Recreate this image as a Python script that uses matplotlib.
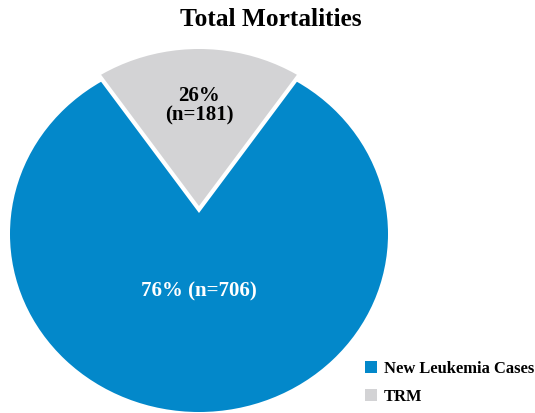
import matplotlib
matplotlib.use("Agg")
import matplotlib.pyplot as plt
from matplotlib.patches import Ellipse

# ---- data ----
categories = ["New Leukemia Cases", "TRM"]
counts = [706, 181]
pct_labels = ["76%", "26%"]
colors = ["#0388CA", "#D3D3D5"]
title = "Total Mortalities"

plt.rcParams['font.family'] = ['Liberation Serif', 'DejaVu Serif']

W, H = 535, 413
fig = plt.figure(figsize=(W / 100, H / 100), dpi=100)
ax = fig.add_axes([0, 0, 1, 1])

total = sum(counts)
frac_grey = counts[1] / total
start = 90 + 360 * frac_grey / 2

apex = (199, H - 213)
shift = 7
wedges, _ = ax.pie(counts, colors=colors, startangle=start, counterclock=True,
                   radius=260, center=apex, explode=[0, shift], frame=True,
                   wedgeprops=dict(linewidth=0))
ax.set_xlim(0, W)
ax.set_ylim(0, H)
ax.set_aspect('auto')
ax.axis('off')

leg = ax.legend(wedges, categories, loc='upper left', bbox_to_anchor=(365 / W, 1 - 361 / H),
                frameon=False, borderpad=0, borderaxespad=0, handlelength=0.72,
                handleheight=0.72, handletextpad=0.4, labelspacing=0.72,
                prop=dict(family='Liberation Serif', weight='bold', size=11.9))

# outer outline (slightly flattened circle), shifted with each slice
ell_c = (199, H - 234)
ew, eh = 378, 356
clip_b = Ellipse(ell_c, ew, eh, transform=ax.transData)
clip_g = Ellipse((ell_c[0], ell_c[1] + shift), ew, eh, transform=ax.transData)
for w, c in zip(wedges, [clip_b, clip_g]):
    w.set_clip_on(True)
    w.set_clip_path(c)

ax.text(199, H - 106, f"{pct_labels[1]}\n(n={counts[1]})", ha='center', va='center',
        fontsize=15, fontweight='bold', color='black', linespacing=0.95)
ax.text(199, H - 291, f"{pct_labels[0]} (n={counts[0]})", ha='center', va='center',
        fontsize=15, fontweight='bold', color='white')

ax.text(271, H - 19, title, ha='center', va='center', fontsize=18.3, fontweight='bold')

fig.savefig("out.png", dpi=100)
